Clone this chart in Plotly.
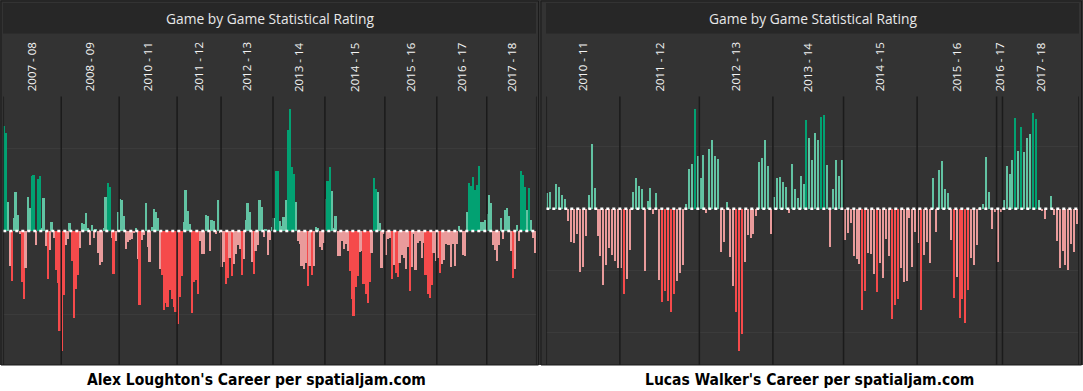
import plotly.graph_objects as go
from itertools import accumulate

W, H = 1083, 391

# ---------------- data ----------------
alex_seasons = ["2007 - 08", "2008 - 09", "2010 - 11", "2011 - 12", "2012 - 13",
                "2013 - 14", "2014 - 15", "2015 - 16", "2016 - 17", "2017 - 18"]
alex_2007_08 = [105, 98, 29, -35, -50, 13, 39, 16, -3, -51, -68, -37, 34, 23, 55, 56, -14, 52, 55, 3, 33, -15, -48, -19, 9, -7, -39, -52, -100]
alex_2008_09 = [-120, -64, -14, -8, 8, -30, -87, -58, -44, -17, 8, 7, 18, 3, -14, 6, -7, 2, -22, -34, -31, 3, 34, 48, 44, -7, -43, -10, 19]
alex_2010_11 = [32, 31, 15, -18, -11, -9, -8, -2, 3, -28, -74, -9, -4, 28, -16, -31, 4, 22, 19, 13, -38, -44, -79, -72, -76, -59, -68, -76, -81]
alex_2011_12 = [-93, -66, -45, 9, 41, 20, 7, -82, -51, -49, -63, -10, -23, -23, 16, 15, -20, 11, 10, -3, 31, -2]
alex_2012_13 = [-36, -31, -53, -47, -27, -45, -33, -23, -14, -18, -44, -28, 11, 28, 19, -31, -43, -20, -14, 31, 24, -6, 2, -24, -9, 4]
alex_2013_14 = [13, 60, 60, 10, 5, 14, 31, 101, 122, 64, 57, 29, -10, -13, -35, -38, -32, -55, -35, -44, -35, 4, 3, -16, -19, -12]
alex_2014_15 = [32, 50, 64, 40, 3, 15, -25, -25, -10, -18, -13, -20, -40, -68, -85, -56, -45, -21, -20, -53, -63, -72, -51, -22, 53, 42, 39, 8, -37, -3]
alex_2015_16 = [-24, -8, -7, -48, -34, -42, -46, -32, -24, -27, -38, -16, -60, -36, -3, -39, -12, -10, -27, -12, -44, -63, -67, -54, -22, -30]
alex_2016_17 = [-27, -42, -33, -29, -13, -14, -14, -36, -13, -35, -13, 5, -1, -24, -25, 19, 48, 45, 54, 41, 46, 65, 9, 9, 11]
alex_2017_18 = [17, 36, 28, -14, -19, -30, -14, 13, -8, 21, 23, 15, -20, -47, -38, 6, -10, 60, 56, 44, 21, 43, 11, -7, -22]
alex_games = [alex_2007_08, alex_2008_09, alex_2010_11, alex_2011_12, alex_2012_13,
              alex_2013_14, alex_2014_15, alex_2015_16, alex_2016_17, alex_2017_18]
# D = strong (saturated) game, L = mild game
alex_tone = ["DDLLDLLLLDDLLLDDLDDLLLDLLLDDD",
             "DDLLLDDDDLLLLLLLLLLLLLLDDLDLL",
             "LLLLLLLLLLDLLLLLLLLLLDDDDDDDD",
             "DDDLLLLDDDDLLLLLLLLLLL",
             "LLDDLDLLLLDLLLLLDLLLLLLLLL",
             "LDDLLLLDDDDLLLLLLDLDLLLLLL",
             "LDDLLLLLLLLLDDDDDLLDDDDLDDLLLL",
             "LLLDLDDLLLLLDLLLLLLLDDDDLL",
             "LDLLLLLLLLLLLLLLDDDDDDLLL",
             "LLLLLLLLLLLLLDLLLDDDLDLLL"]

lucas_seasons = ["2010 - 11", "2011 - 12", "2012 - 13", "2013 - 14",
                 "2014 - 15", "2015 - 16", "2016 - 17", "2017 - 18"]
lucas_2010_11 = [16, 17, 0, 25, 22, 14, 10, -12, -33, -34, -25, -63, -58, -27, 14, 65, 21, -27, -47, -76, -56, -39, -46, -52, -59]
lucas_2011_12 = [-59, -85, -70, -41, 17, 31, 23, 20, -62, 8, 21, -5, 16, -71, -93, -82, -92, -103, -85, -72, -64, -56, 5, 40, 45, 100, 53]
lucas_2012_13 = [31, 54, -4, 60, 69, 53, 50, -43, -33, 7, -48, -77, -103, -142, -125, -53, -26, -29, -25, -7, 47, 51, 69, 43, -25]
lucas_2013_14 = [12, 31, 32, 27, 22, -4, 45, 20, 11, 33, 25, 89, 71, 49, 76, 69, 92, 94, 44, -38, 20, 49, 33, 49]
lucas_2014_15 = [-31, -24, -14, -47, -50, -55, -101, -82, -44, -45, -65, -83, -54, -69, -30, -47, -110, -96, -90, -59, -73, -72, -9, -58, -23]
lucas_2015_16 = [-34, -101, -46, -33, -54, 31, -23, 39, 48, 20, 16, -31, -89, -68, -109, -90, -114, -81, -49, -56, -36, 1, 5, 52, 17, -20, -3]
lucas_2016_17 = [-53, -3]
lucas_2017_18 = [9, 43, 35, 49, 91, 58, 82, 57, 71, 75, 96, 90, 9, -2, -10, 0, 13, -6, -32, -59, -42, -56, -61, -35, -43, -15]
lucas_games = [lucas_2010_11, lucas_2011_12, lucas_2012_13, lucas_2013_14,
               lucas_2014_15, lucas_2015_16, lucas_2016_17, lucas_2017_18]
lucas_tone = ["LLLLLLLLLLLLLLLLLLLLLLLLL",
              "LDLLLLLLLLLLLLDDDDDLLLLLLDL",
              "LLLLLLLLLLLLDDDLLLLLLLLLL",
              "LLLLLLLLLLLDLLLLDDLLLLLL",
              "LLLLLLDDLLLDLLLLDDDLLLLLL",
              "LDLLLLLLLLLLDLDDDDLLLLLLLLL",
              "LL",
              "LLLLDLDLLLDDLLLLLLLLLLLLLL"]

panel_title = "Game by Game Statistical Rating"
captions = ["Alex Loughton's Career per spatialjam.com",
            "Lucas Walker's Career per spatialjam.com"]

# ---------------- styles ----------------
DARK_G, LIGHT_G = "#02a172", "#62c3a3"
DARK_R, LIGHT_R = "#f54a4b", "#e99b9b"
BG, TITLE_BG, DIVIDER, GRID = "#333333", "#272727", "#1b1b1b", "#3b3b3b"


def px(x):
    return x / W


def py(y):
    return 1 - y / H


def bar_colors(games, tones):
    out = []
    for vals, t in zip(games, tones):
        for v, c in zip(vals, t):
            if v >= 0:
                out.append(DARK_G if c == "D" else LIGHT_G)
            else:
                out.append(DARK_R if c == "D" else LIGHT_R)
    return out


fig = go.Figure()
shapes, annotations = [], []

# page background (dark area) and panel chrome
shapes.append(dict(type="rect", xref="paper", yref="paper", x0=0, x1=1,
                   y0=py(365), y1=1, fillcolor=BG, line_width=0, layer="below"))

panels = [
    dict(games=alex_games, tones=alex_tone, seasons=alex_seasons, xa="x", ya="y",
         dom=(3.3, 536.7), frame=(1.0, 538.5), tbar=(3, 536), yr=(-134, 134), dtick=83,
         width=1.0, cap_x=256),
    dict(games=lucas_games, tones=lucas_tone, seasons=lucas_seasons, xa="x2", ya="y2",
         dom=(546.3, 1079.0), frame=(541.0, 1081.5), tbar=(546, 1079), yr=(-156.3, 111.7), dtick=62,
         width=0.68, cap_x=809),
]

for i, p in enumerate(panels):
    vals = [v for season in p["games"] for v in season]
    n = len(vals)
    xs = list(range(n))
    fig.add_trace(go.Bar(x=xs, y=vals, marker=dict(color=bar_colors(p["games"], p["tones"]),
                                                   line=dict(width=0)),
                         width=p["width"], xaxis=p["xa"], yaxis=p["ya"],
                         showlegend=False, hoverinfo="y"))
    # frame + title bar
    shapes.append(dict(type="rect", xref="paper", yref="paper",
                       x0=px(p["frame"][0]), x1=px(p["frame"][1]), y0=py(365), y1=py(1.0),
                       line=dict(color=DIVIDER, width=1), fillcolor="rgba(0,0,0,0)", layer="below"))
    shapes.append(dict(type="rect", xref="paper", yref="paper",
                       x0=px(p["tbar"][0]), x1=px(p["tbar"][1]), y0=py(33.5), y1=py(3),
                       fillcolor=TITLE_BG, line_width=0, layer="below"))
    annotations.append(dict(xref="paper", yref="paper", x=(px(p["tbar"][0]) + px(p["tbar"][1])) / 2,
                            y=py(18.5), text=panel_title, showarrow=False,
                            font=dict(family="Open Sans, Noto Sans", size=13.8, color="#e8e8e8"),
                            xanchor="center", yanchor="middle"))
    # season dividers and header labels
    counts = [len(s) for s in p["games"]]
    bounds = [0] + list(accumulate(counts))
    for b in bounds:
        shapes.append(dict(type="line", xref=p["xa"], yref="paper", x0=b - 0.5, x1=b - 0.5,
                           y0=py(365), y1=py(96.5), line=dict(color=DIVIDER, width=1.5),
                           layer="above"))
    for label, a, b in zip(p["seasons"], bounds[:-1], bounds[1:]):
        annotations.append(dict(xref=p["xa"], yref="paper", x=(a + b - 1) / 2, y=py(67),
                                text=label, showarrow=False, textangle=-90,
                                font=dict(family="Open Sans, Noto Sans", size=11.5, color="#f4f4f4"),
                                xanchor="center", yanchor="middle"))
    # dashed zero line
    shapes.append(dict(type="line", xref=p["xa"], yref=p["ya"], x0=-0.5, x1=n - 0.5, y0=0, y1=0,
                       line=dict(color="white", width=2.5, dash="3px,3px"), layer="above"))
    # caption
    annotations.append(dict(xref="paper", yref="paper", x=px(p["cap_x"]), y=py(380),
                            text="<b>" + captions[i] + "</b>", showarrow=False,
                            font=dict(family="Liberation Sans Narrow, DejaVu Sans Condensed, Arial Narrow",
                                      size=15.5, color="black"),
                            xanchor="center", yanchor="middle"))
    suffix = "" if i == 0 else "2"
    fig.update_layout(**{
        "xaxis" + suffix: dict(domain=[px(p["dom"][0]), px(p["dom"][1])], range=[-0.5, n - 0.5],
                               showgrid=False, zeroline=False, showticklabels=False, ticks="",
                               fixedrange=True, anchor=p["ya"]),
        "yaxis" + suffix: dict(domain=[py(365), py(97)], range=list(p["yr"]), dtick=p["dtick"],
                               tick0=0, showgrid=True, gridcolor=GRID, gridwidth=1,
                               zeroline=False, showticklabels=False, ticks="",
                               fixedrange=True, anchor=p["xa"]),
    })

fig.update_layout(width=W, height=H, margin=dict(l=0, r=0, t=0, b=0),
                  paper_bgcolor="white", plot_bgcolor="rgba(0,0,0,0)",
                  bargap=0, shapes=shapes, annotations=annotations)

fig.write_html("out.html", config={"displayModeBar": False},
               post_script="document.body.style.margin='0';document.body.style.overflow='hidden';")
